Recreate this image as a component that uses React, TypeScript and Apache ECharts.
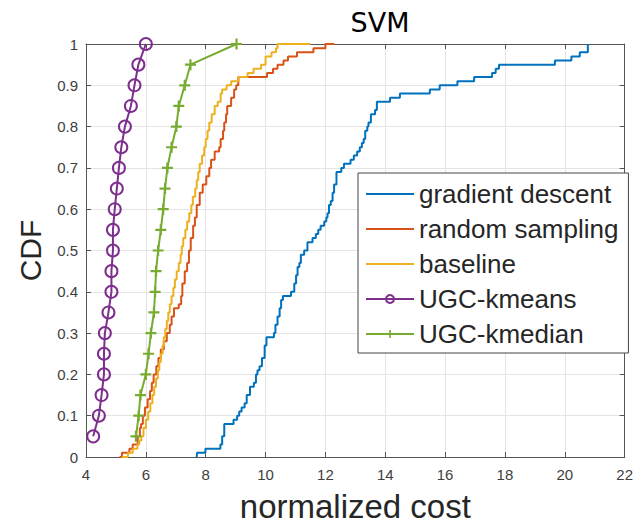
import React, { useEffect, useRef } from "react";
import * as echarts from "echarts";

// gradient descent (empirical CDF jump points)
const gdX = [7.7, 7.71, 7.99, 8.49, 8.55, 8.62, 8.93, 9.05, 9.12, 9.2, 9.3, 9.37, 9.48, 9.61, 9.68, 9.73, 9.8, 9.88, 9.97, 10.03, 10.28, 10.33, 10.4, 10.47, 10.52, 10.58, 10.85, 10.96, 11.02, 11.07, 11.13, 11.18, 11.29, 11.4, 11.57, 11.68, 11.76, 11.84, 11.96, 12.03, 12.07, 12.12, 12.18, 12.24, 12.29, 12.37, 12.53, 12.62, 12.84, 12.95, 13.06, 13.15, 13.22, 13.28, 13.33, 13.4, 13.44, 13.52, 13.66, 13.72, 14.16, 14.49, 15.49, 15.82, 16.41, 16.97, 17.57, 17.69, 17.8, 19.67, 20.22, 20.5, 20.77];
const gdF = [0, 0.01, 0.02, 0.03, 0.05, 0.08, 0.09, 0.10, 0.11, 0.12, 0.13, 0.15, 0.17, 0.18, 0.20, 0.21, 0.22, 0.24, 0.27, 0.29, 0.30, 0.32, 0.34, 0.36, 0.38, 0.39, 0.40, 0.42, 0.44, 0.46, 0.47, 0.49, 0.50, 0.52, 0.53, 0.54, 0.55, 0.56, 0.57, 0.58, 0.59, 0.61, 0.62, 0.64, 0.66, 0.69, 0.70, 0.71, 0.72, 0.73, 0.74, 0.75, 0.76, 0.77, 0.79, 0.80, 0.81, 0.83, 0.84, 0.86, 0.87, 0.88, 0.89, 0.90, 0.91, 0.92, 0.93, 0.94, 0.95, 0.96, 0.97, 0.98, 1.0];

// random sampling
const rsX = [5.12, 5.2, 5.45, 5.56, 5.73, 5.8, 5.84, 5.9, 5.97, 6.06, 6.14, 6.2, 6.26, 6.35, 6.42, 6.5, 6.6, 6.7, 6.8, 6.86, 6.94, 7.1, 7.18, 7.22, 7.3, 7.38, 7.44, 7.5, 7.58, 7.64, 7.7, 7.8, 7.9, 8.02, 8.12, 8.18, 8.3, 8.45, 8.5, 8.58, 8.62, 8.68, 8.72, 8.85, 8.95, 9.02, 9.09, 10.05, 10.25, 10.4, 10.6, 10.75, 11.05, 11.6, 12.0, 12.3];
const rsF = [0, 0.01, 0.02, 0.03, 0.05, 0.07, 0.08, 0.10, 0.12, 0.14, 0.16, 0.18, 0.20, 0.22, 0.24, 0.26, 0.28, 0.30, 0.32, 0.34, 0.36, 0.37, 0.39, 0.42, 0.45, 0.47, 0.50, 0.53, 0.56, 0.58, 0.61, 0.64, 0.66, 0.68, 0.70, 0.72, 0.74, 0.75, 0.77, 0.79, 0.81, 0.83, 0.85, 0.87, 0.89, 0.90, 0.92, 0.93, 0.94, 0.95, 0.96, 0.97, 0.98, 0.99, 1.0, 1.0];

// baseline
const blX = [5.2, 5.4, 5.56, 5.72, 5.78, 5.85, 5.92, 6.0, 6.08, 6.15, 6.22, 6.28, 6.34, 6.4, 6.45, 6.5, 6.56, 6.6, 6.65, 6.7, 6.75, 6.8, 6.86, 6.92, 6.97, 7.03, 7.1, 7.16, 7.2, 7.25, 7.32, 7.38, 7.45, 7.52, 7.57, 7.65, 7.7, 7.75, 7.8, 7.88, 7.95, 8.0, 8.06, 8.12, 8.2, 8.3, 8.4, 8.5, 8.55, 8.7, 8.85, 9.1, 9.4, 9.6, 9.85, 10.0, 10.2, 10.35, 10.4, 11.5];
const blF = [0, 0.01, 0.02, 0.03, 0.04, 0.05, 0.07, 0.09, 0.11, 0.13, 0.15, 0.17, 0.19, 0.21, 0.23, 0.25, 0.27, 0.29, 0.31, 0.33, 0.35, 0.37, 0.39, 0.41, 0.43, 0.45, 0.47, 0.49, 0.51, 0.53, 0.55, 0.57, 0.59, 0.61, 0.63, 0.65, 0.67, 0.69, 0.71, 0.73, 0.75, 0.77, 0.79, 0.81, 0.83, 0.85, 0.86, 0.88, 0.89, 0.90, 0.91, 0.92, 0.93, 0.94, 0.95, 0.97, 0.98, 0.99, 1.0, 1.0];

// UGC markers
const ugcF = [0.05, 0.10, 0.15, 0.20, 0.25, 0.30, 0.35, 0.40, 0.45, 0.50, 0.55, 0.60, 0.65, 0.70, 0.75, 0.80, 0.85, 0.90, 0.95, 1.0];
const kmeansX = [4.24, 4.43, 4.52, 4.6, 4.6, 4.63, 4.75, 4.85, 4.85, 4.9, 4.9, 4.96, 5.03, 5.1, 5.18, 5.3, 5.5, 5.62, 5.75, 6.0];
const kmedianX = [5.67, 5.76, 5.82, 6.0, 6.09, 6.17, 6.27, 6.31, 6.34, 6.41, 6.5, 6.58, 6.64, 6.72, 6.86, 7.02, 7.1, 7.3, 7.49, 9.03];

const seriesNames = ["gradient descent", "random sampling", "baseline", "UGC-kmeans", "UGC-kmedian"];
const colors = ["#0072BD", "#D95319", "#EDB120", "#7E2F8E", "#77AC30"];

const FONT = "'Liberation Sans', Arial, Helvetica, sans-serif";

function pairs(xs: number[], ys: number[]) {
  return xs.map((x, i) => [x, ys[i]]);
}

export default function App() {
  const ref = useRef<HTMLDivElement>(null);
  useEffect(() => {
    const chart = echarts.init(ref.current!, null, { renderer: "svg" });
    const axisLine = { show: true, onZero: false, lineStyle: { color: "#555", width: 1 } };
    const axisTick = { show: true, inside: true, length: 5, lineStyle: { color: "#555", width: 1 } };
    const split = { show: true, lineStyle: { color: "#e4e4e4", width: 1 } };
    const plusPath = "path://M4,0h2v4h4v2h-4v4h-2v-4h-4v-2h4z";
    chart.setOption({
      animation: false,
      backgroundColor: "#fff",
      textStyle: { fontFamily: FONT },
      graphic: [
        {
          type: "text",
          x: 380,
          y: 22,
          style: {
            text: "SVM",
            fill: "#000",
            fontSize: 27,
            fontFamily: "'DejaVu Sans', sans-serif",
            align: "center",
            verticalAlign: "middle",
            textAlign: "center",
            textVerticalAlign: "middle",
          },
        },
      ],
      grid: { left: 86, right: 6, top: 44, bottom: 69, containLabel: false },
      xAxis: [
        {
          type: "value",
          min: 4,
          max: 22,
          interval: 2,
          position: "bottom",
          name: "normalized cost",
          nameLocation: "middle",
          nameGap: 33,
          nameTextStyle: { fontSize: 33, color: "#262626", fontFamily: FONT },
          axisLine,
          axisTick,
          axisLabel: { fontSize: 15, color: "#404040", margin: 10, fontFamily: FONT },
          splitLine: split,
        },
        {
          type: "value",
          min: 4,
          max: 22,
          interval: 2,
          position: "top",
          axisLine,
          axisTick,
          axisLabel: { show: false },
          splitLine: { show: false },
        },
      ],
      yAxis: [
        {
          type: "value",
          min: 0,
          max: 1,
          interval: 0.1,
          position: "left",
          name: "CDF",
          nameLocation: "middle",
          nameGap: 41,
          nameTextStyle: { fontSize: 30, color: "#262626", fontFamily: FONT },
          axisLine,
          axisTick,
          axisLabel: { fontSize: 15, color: "#404040", margin: 8, fontFamily: FONT },
          splitLine: split,
        },
        {
          type: "value",
          min: 0,
          max: 1,
          interval: 0.1,
          position: "right",
          axisLine,
          axisTick,
          axisLabel: { show: false },
          splitLine: { show: false },
        },
      ],
      legend: {
        orient: "vertical",
        left: 358,
        top: 173,
        padding: [8, 10, 6, 7],
        itemGap: 9,
        itemWidth: 48,
        itemHeight: 10,
        backgroundColor: "#fff",
        borderColor: "#444",
        borderWidth: 1,
        selectedMode: false,
        textStyle: { fontSize: 26, lineHeight: 26, color: "#262626", fontFamily: FONT },
        data: [
          { name: seriesNames[0], itemStyle: { opacity: 0 } },
          { name: seriesNames[1], itemStyle: { opacity: 0 } },
          { name: seriesNames[2], itemStyle: { opacity: 0 } },
          { name: seriesNames[3] },
          { name: seriesNames[4] },
        ],
      },
      series: [
        {
          name: seriesNames[0],
          type: "line",
          step: "end",
          symbol: "none",
          data: pairs(gdX, gdF),
          lineStyle: { color: colors[0], width: 2 },
          itemStyle: { color: colors[0] },
        },
        {
          name: seriesNames[1],
          type: "line",
          step: "end",
          symbol: "none",
          data: pairs(rsX, rsF),
          lineStyle: { color: colors[1], width: 2 },
          itemStyle: { color: colors[1] },
        },
        {
          name: seriesNames[2],
          type: "line",
          step: "end",
          symbol: "none",
          data: pairs(blX, blF),
          lineStyle: { color: colors[2], width: 2 },
          itemStyle: { color: colors[2] },
        },
        {
          name: seriesNames[3],
          type: "line",
          symbol: "circle",
          symbolSize: 12,
          data: pairs(kmeansX, ugcF),
          lineStyle: { color: colors[3], width: 2 },
          itemStyle: { color: "transparent", borderColor: colors[3], borderWidth: 2 },
        },
        {
          name: seriesNames[4],
          type: "line",
          symbol: plusPath,
          symbolSize: 11,
          data: pairs(kmedianX, ugcF),
          lineStyle: { color: colors[4], width: 2 },
          itemStyle: { color: colors[4], borderWidth: 0 },
        },
      ],
    });
    return () => chart.dispose();
  }, []);
  return (
    <div
      ref={ref}
      style={{ position: "fixed", left: 0, top: 0, width: 636, height: 528, background: "#fff" }}
    />
  );
}
